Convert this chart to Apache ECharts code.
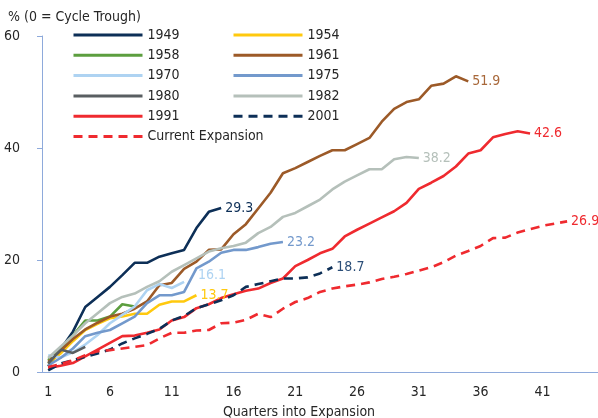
<!DOCTYPE html>
<html>
<head>
<meta charset="utf-8">
<script src="https://cdn.jsdelivr.net/npm/echarts@6/dist/echarts.min.js"></script>
<style>
  html, body { margin: 0; padding: 0; background: #fff; }
  #chart { width: 598px; height: 418px; }
</style>
</head>
<body>
<div id="chart"></div>
<script>
// Quarters since the cycle trough
const quarters = ['1','2','3','4','5','6','7','8','9','10','11','12','13','14','15',
  '16','17','18','19','20','21','22','23','24','25','26','27','28','29','30',
  '31','32','33','34','35','36','37','38','39','40','41','42','43','44','45'];
const yTicks = [0, 20, 40, 60];

// Cumulative growth (%) by expansion
const e1949 = [1.0, 4.0, 7.2, 11.6, 13.4, 15.2, 17.3, 19.5, 19.5, 20.6, 21.2, 21.8, 25.7, 28.6, 29.3];
const e1954 = [1.5, 3.3, 5.5, 7.5, 8.6, 9.6, 9.9, 10.4, 10.4, 12.0, 12.6, 12.6, 13.7];
const e1958 = [2.1, 4.3, 6.5, 9.2, 9.2, 9.9, 12.1, 11.7];
const e1961 = [1.8, 3.8, 5.9, 7.6, 8.8, 9.9, 10.4, 11.3, 12.6, 15.5, 15.9, 18.4, 19.7, 21.8, 21.9,
  24.6, 26.4, 29.2, 32.0, 35.5, 36.4, 37.5, 38.6, 39.6, 39.6, 40.7, 41.8, 44.7, 47.0, 48.2,
  48.7, 51.1, 51.5, 52.8, 51.9];
const e1970 = [3.0, 2.6, 3.5, 4.9, 6.6, 8.7, 10.2, 11.7, 14.6, 15.7, 15.0, 16.1];
const e1975 = [1.2, 2.5, 4.2, 6.4, 7.0, 7.5, 8.7, 9.9, 12.3, 13.7, 13.7, 14.3, 18.5, 19.7, 21.3,
  21.8, 21.8, 22.3, 22.9, 23.2];
const e1980 = [1.5, 4.0, 3.4, 4.5];
const e1982 = [2.5, 4.5, 6.5, 8.7, 10.5, 12.3, 13.4, 14.0, 15.2, 16.2, 17.9, 19.1, 20.3, 21.5, 22.1,
  22.5, 23.1, 24.8, 25.9, 27.7, 28.4, 29.6, 30.8, 32.6, 34.0, 35.1, 36.2, 36.2, 38.0, 38.4, 38.2];
const e1991 = [0.7, 1.1, 1.6, 2.8, 4.0, 5.2, 6.4, 6.5, 7.0, 7.6, 9.2, 9.8, 11.4, 12.1, 13.2,
  13.9, 14.5, 14.9, 15.9, 16.7, 18.9, 20.0, 21.2, 22.0, 24.2, 25.4, 26.5, 27.6, 28.7, 30.2,
  32.7, 33.8, 35.0, 36.7, 39.0, 39.6, 41.9, 42.5, 43.0, 42.6];
const e2001 = [0.3, 1.5, 2.1, 2.7, 3.3, 4.0, 5.1, 6.0, 6.8, 7.7, 9.2, 10.0, 11.4, 12.1, 12.8,
  13.7, 15.2, 15.7, 16.2, 16.7, 16.7, 16.9, 17.6, 18.7];
const eCurrent = [0.9, 1.4, 2.1, 3.0, 3.7, 3.9, 4.2, 4.5, 4.8, 6.0, 7.0, 7.0, 7.4, 7.5, 8.7,
  8.8, 9.3, 10.4, 9.8, 11.3, 12.5, 13.2, 14.3, 14.9, 15.3, 15.6, 16.0, 16.6, 17.0, 17.5,
  18.1, 18.7, 19.6, 20.8, 21.6, 22.5, 23.9, 24.0, 24.9, 25.5, 26.1, 26.5, 26.9];

const FONT = "'Liberation Sans Narrow', 'DejaVu Sans Condensed', 'Roboto Condensed', 'Liberation Sans', sans-serif";
const TEXT = '#262626';
const AXIS = '#8eaadb';

const NAVY = '#0d2f57';
const RED = '#ef2a2f';

function line(name, data, color, opts) {
  opts = opts || {};
  const s = {
    name: name,
    type: 'line',
    data: data,
    symbol: 'none',
    showSymbol: false,
    smooth: false,
    animation: false,
    color: color,
    lineStyle: { color: color, width: 2.6, type: opts.dashed ? [9, 6] : 'solid', cap: 'butt' },
    emphasis: { disabled: true }
  };
  if (opts.label) {
    s.endLabel = {
      show: true,
      formatter: p => p.value.toFixed(1),
      color: opts.labelColor || color,
      fontFamily: FONT,
      fontSize: 14,
      distance: 4,
      offset: opts.offset || [0, 0]
    };
  }
  return s;
}

const chart = echarts.init(document.getElementById('chart'), null, { renderer: 'canvas' });

const legendBase = {
  orient: 'vertical', top: 28, padding: 0,
  itemWidth: 69, itemHeight: 14, itemGap: 6.3,
  itemStyle: { opacity: 0 },
  lineStyle: { width: 3 },
  textStyle: { fontFamily: FONT, fontSize: 14, color: TEXT },
  selectedMode: false
};

chart.setOption({
  backgroundColor: '#fff',
  animation: false,
  title: [
    {
      text: '% (0 = Cycle Trough)',
      left: 3, top: 5,
      textStyle: { fontFamily: FONT, fontSize: 14, fontWeight: 'normal', color: TEXT }
    },
    {
      text: 'Quarters into Expansion',
      left: 'center', top: 400,
      textStyle: { fontFamily: FONT, fontSize: 14, fontWeight: 'normal', color: TEXT }
    }
  ],
  legend: [
    Object.assign({}, legendBase, {
      left: 72,
      data: ['1949', '1958', '1970', '1980', '1991', 'Current Expansion']
    }),
    Object.assign({}, legendBase, {
      left: 232,
      data: ['1954', '1961', '1975', '1982', '2001']
    })
  ],
  grid: { left: 42, right: -3, top: 36, bottom: 46, containLabel: false },
  xAxis: {
    type: 'category',
    data: quarters,
    boundaryGap: true,
    axisLine: { lineStyle: { color: AXIS, width: 1 } },
    axisTick: { show: false },
    axisLabel: {
      interval: 4,
      margin: 13,
      fontFamily: FONT, fontSize: 14, color: TEXT
    },
    splitLine: { show: false }
  },
  yAxis: {
    type: 'value',
    min: yTicks[0], max: yTicks[yTicks.length - 1], interval: 20,
    axisLine: { show: true, lineStyle: { color: AXIS, width: 1 } },
    axisTick: { show: true, length: 5, lineStyle: { color: AXIS } },
    axisLabel: { margin: 22, fontFamily: FONT, fontSize: 14, color: TEXT },
    splitLine: { show: false }
  },
  series: [
    line('1949', e1949, NAVY, { label: true }),
    line('1954', e1954, '#ffc90e', { label: true }),
    line('1958', e1958, '#5c9e3f'),
    line('1961', e1961, '#9c5a28', { label: true, labelColor: '#a8683a' }),
    line('1970', e1970, '#aed3f2', { label: true, offset: [10, -6] }),
    line('1975', e1975, '#7399cc', { label: true }),
    line('1980', e1980, '#595e61'),
    line('1982', e1982, '#b5c0ba', { label: true }),
    line('1991', e1991, RED, { label: true }),
    line('2001', e2001, NAVY, { label: true, dashed: true, labelColor: '#2b4e78' }),
    line('Current Expansion', eCurrent, RED, { label: true, dashed: true })
  ]
});
</script>
</body>
</html>
